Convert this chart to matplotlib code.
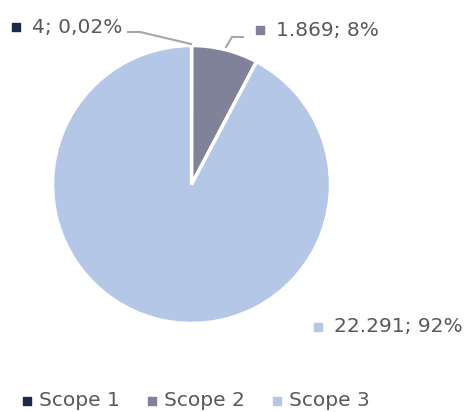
import matplotlib
matplotlib.use("Agg")
import matplotlib.pyplot as plt

categories = ["Scope 1", "Scope 2", "Scope 3"]
values = [4, 1869, 22291]
labels = ["4; 0,02%", "1.869; 8%", "22.291; 92%"]
colors = ["#1c2a48", "#7f8299", "#b4c7e7"]

W, H = 474, 412
fig = plt.figure(figsize=(W / 100, H / 100), dpi=100)
ax = fig.add_axes([0, 0, 1, 1])

cx, cy, r = 191.5, 184.5, 139
# y axis is inverted below, so angles are mirrored: start at visual top, go visually clockwise
wedges, _ = ax.pie(values, colors=colors, startangle=-90, counterclock=True,
                   center=(cx, cy), radius=r, frame=True,
                   wedgeprops=dict(edgecolor="white", linewidth=2.5))
ax.set_xlim(0, W)
ax.set_ylim(H, 0)
ax.set_aspect("equal")
ax.axis("off")

txt_color = "#595959"
fs = 14.5
font = "DejaVu Sans"

# data labels
lab_pos = [(13, 27), (257, 30), (315, 327)]
for (x, y), lab, col in zip(lab_pos, labels, colors):
    ax.scatter([x + 3.5], [y], marker="s", s=28, color=col, zorder=5)
    ax.text(x + 19, y, lab, fontsize=fs, color=txt_color, va="center",
            ha="left", family=font)

# leader lines
ax.plot([128, 140, 191], [32, 32, 44], color="#a6a6a6", lw=1.5)
ax.plot([243, 232, 226], [37, 37, 47], color="#a6a6a6", lw=1.5)

# legend
leg_x = [23, 148, 273]
for x, cat, col in zip(leg_x, categories, colors):
    ax.scatter([x + 4], [401], marker="s", s=28, color=col, zorder=5)
    ax.text(x + 16, 400, cat, fontsize=fs, color=txt_color, va="center",
            ha="left", family=font)

fig.savefig("out.png", dpi=100)
